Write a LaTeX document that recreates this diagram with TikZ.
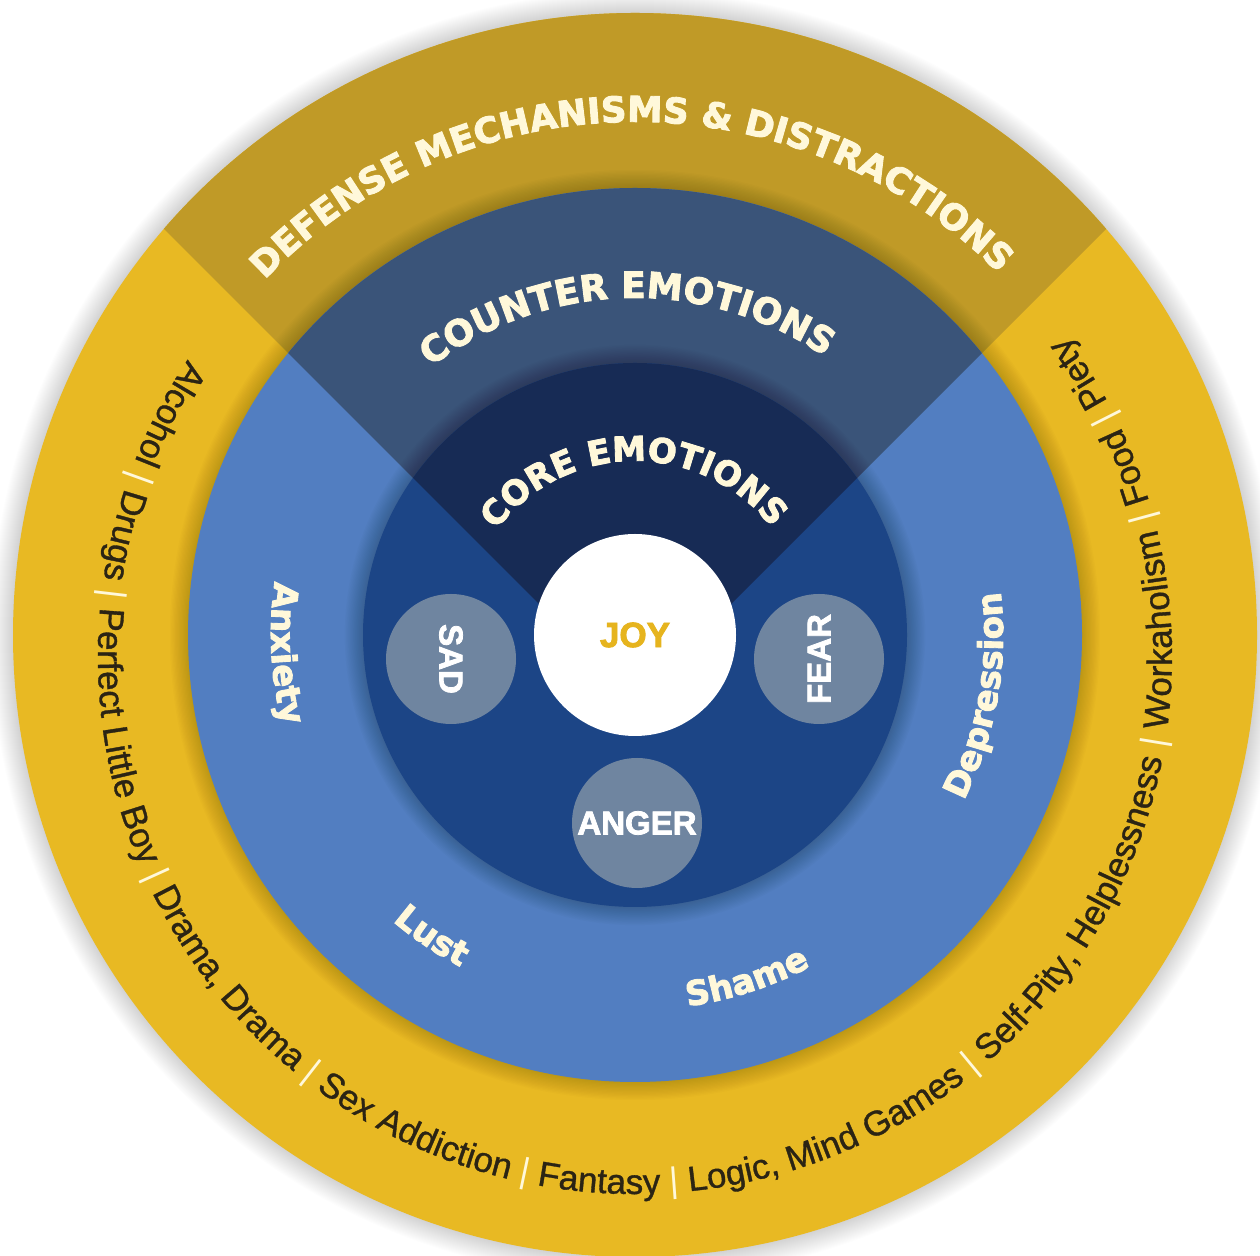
\documentclass[tikz,border=0pt]{standalone}
\usepackage{fontspec}
\setmainfont{Liberation Sans}[BoldFeatures={FakeBold=2.4}]
\newfontfamily\headfont{DejaVu Sans}[BoldFeatures={FakeBold=2.6}]
\newfontfamily\listfont{Liberation Sans}[FakeBold=1]
\usetikzlibrary{decorations.text}

\definecolor{ringgold}{HTML}{E8B923}
\definecolor{sectorgold}{HTML}{C09A27}
\definecolor{ringblue}{HTML}{527EC1}
\definecolor{sectorslate}{HTML}{3A5479}
\definecolor{coreblue}{HTML}{1C4586}
\definecolor{sectornavy}{HTML}{172B55}
\definecolor{bubblegray}{HTML}{6F85A0}
\definecolor{cream}{HTML}{FFF8DA}
\definecolor{listink}{HTML}{2B2414}
\definecolor{joygold}{HTML}{E6B41E}

% character formats for the curved labels
\newcommand\headfmt[1]{\headfont\bfseries\fontsize{#1}{#1}\selectfont\color{cream}}
\newcommand\listfmt{\listfont\fontsize{35}{35}\selectfont\color{listink}}
\newcommand\sepfmt{\fontsize{35}{35}\selectfont\color{cream}}

\tikzset{
  arclabel/.style={decorate, decoration={text along path, text align=center, text={#1}}},
  bubble/.style={circle, fill=bubblegray, minimum size=130pt, inner sep=0pt,
    text=white, font=\bfseries\fontsize{33}{33}\selectfont},
  softshadow/.style={black, opacity=#1},
}

\begin{document}
\begin{tikzpicture}[x=1pt, y=1pt]
\useasboundingbox (0,0) rectangle (1260,1255);
\fill[white] (0,0) rectangle (1260,1255);

\begin{scope}[shift={(635,620)}]
  % halo around the whole disc
  \foreach \k in {1,...,22}
    \fill[softshadow=0.007] (0,0) circle[radius=622+\k];

  % outer ring: defense mechanisms
  \fill[ringgold] (0,0) circle[radius=622];
  \begin{scope}
    \clip (0,-65) -- (-1000,935) -- (1000,935) -- cycle;
    \fill[sectorgold] (0,0) circle[radius=622];
  \end{scope}

  % middle ring: counter emotions
  \foreach \k in {1,...,14}
    \fill[softshadow=0.012] (0,0) circle[radius=447+1.3*\k];
  \fill[ringblue] (0,0) circle[radius=447];
  \begin{scope}
    \clip (0,-65) -- (-1000,935) -- (1000,935) -- cycle;
    \fill[sectorslate] (0,0) circle[radius=447];
  \end{scope}

  % inner disc: core emotions
  \foreach \k in {1,...,14}
    \fill[softshadow=0.014] (0,0) circle[radius=272+1.3*\k];
  \fill[coreblue] (0,0) circle[radius=272];
  \begin{scope}
    \clip (0,-65) -- (-1000,935) -- (1000,935) -- cycle;
    \fill[sectornavy] (0,0) circle[radius=272];
  \end{scope}

  % emotion bubbles
  \node[circle, fill=white, minimum size=202pt, inner sep=0pt, text=joygold,
        font=\bfseries\fontsize{35}{35}\selectfont] (joy) at (0,0) {JOY};
  \node[bubble, rotate=-90] (sad) at (-184,-24) {SAD};
  \node[bubble, rotate=90] (fear) at (184,-24) {FEAR};
  \node[bubble] (anger) at (2,-188) {ANGER};

  % ring titles
  \path[arclabel={|\headfmt{35.5}|DEFENSE MECHANISMS {\&} DISTRACTIONS}]
    (165.5:513) arc[start angle=165.5, end angle=15.5, radius=513];
  \path[arclabel={|\headfmt{36}|COUNTER EMOTIONS}]
    (161.5:337) arc[start angle=161.5, end angle=21.5, radius=337];
  \path[arclabel={|\headfmt{34}|CORE EMOTIONS}]
    (165.5:174) arc[start angle=165.5, end angle=15.5, radius=174];

  % counter emotions
  \path[arclabel={|\headfmt{34}|Anxiety}]
    (150:364) arc[start angle=150, end angle=216, radius=364];
  \path[arclabel={|\headfmt{34}|Depression}]
    (-45:368) arc[start angle=-45, end angle=25, radius=368];
  \path[arclabel={|\headfmt{34}|Lust}]
    (206:375) arc[start angle=206, end angle=266, radius=375];
  \path[arclabel={|\headfmt{34}|Shame}]
    (258:375) arc[start angle=258, end angle=318, radius=375];

  % defense mechanisms and distractions
  \begin{scope}[shift={(0,-22)}]
    \path[arclabel={|\listfmt|Alcohol |\sepfmt|{\textbar}|\listfmt| Drugs |\sepfmt|{\textbar}|\listfmt| Perfect Little Boy |\sepfmt|{\textbar}|\listfmt| Drama, Drama |\sepfmt|{\textbar}|\listfmt| Sex Addiction |\sepfmt|{\textbar}|\listfmt| Fantasy |\sepfmt|{\textbar}|\listfmt| Logic, Mind Games |\sepfmt|{\textbar}|\listfmt| Self-Pity, Helplessness |\sepfmt|{\textbar}|\listfmt| Workaholism |\sepfmt|{\textbar}|\listfmt| Food |\sepfmt|{\textbar}|\listfmt| Piety}]
      (141.5:537) arc[start angle=141.5, end angle=401.5, radius=537];
  \end{scope}
\end{scope}
\end{tikzpicture}
\end{document}
